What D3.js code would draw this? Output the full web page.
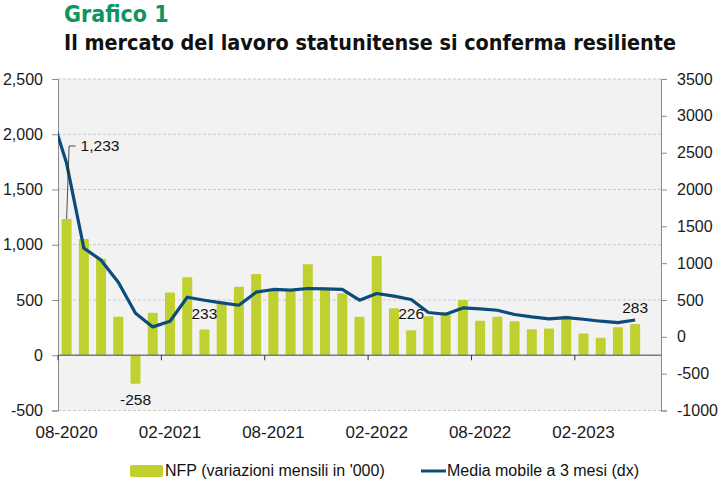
<!DOCTYPE html>
<html>
<head>
<meta charset="utf-8">
<script src="https://cdn.jsdelivr.net/npm/d3@7"></script>
<style>
  body { margin: 0; background: #fff; }
  text { font-family: "Liberation Sans", Arial, sans-serif; }
  .axis path, .axis line { stroke: #8c8c8c; }
  .axis text { fill: #1a1a1a; }
</style>
</head>
<body>
<div id="chart"></div>
<script>
// categories: one slot per month, last one empty
let months = [
    "08-2020","09-2020","10-2020","11-2020","12-2020","01-2021","02-2021","03-2021",
    "04-2021","05-2021","06-2021","07-2021","08-2021","09-2021","10-2021","11-2021",
    "12-2021","01-2022","02-2022","03-2022","04-2022","05-2022","06-2022","07-2022",
    "08-2022","09-2022","10-2022","11-2022","12-2022","01-2023","02-2023","03-2023",
    "04-2023","05-2023","06-2023"
];
// NFP, monthly change in '000 (left axis)
let nfp = [
    1233, 1052, 874, 349, -258, 385, 567, 706, 233, 472, 621, 736, 590, 585, 823, 606,
    561, 349, 899, 425, 226, 352, 392, 500, 313, 349, 308, 235, 241, 358, 196, 159,
    253, 283
];
// 3-month moving average (right axis); maBefore is 07-2020, cut off by the frame
let maBefore = 3100;
let ma = [
    2355, 1204, 1041, 742, 321, 135, 212, 538, 497, 461, 429, 606, 643, 633, 656, 651,
    643, 497, 588, 552, 507, 330, 307, 393, 379, 361, 303, 270, 243, 262, 239, 212,
    192, 228
];
let leftTicks = [-500, 0, 500, 1000, 1500, 2000, 2500];
let rightTicks = [-1000, -500, 0, 500, 1000, 1500, 2000, 2500, 3000, 3500];
let xLabels = ["08-2020","02-2021","08-2021","02-2022","08-2022","02-2023"];
let callouts = [
    { i: 0, text: "1,233" },
    { i: 8, text: "233" },
    { i: 4, text: "-258" },
    { i: 20, text: "226" },
    { i: 33, text: "283" }
];

// d3.format writes a typographic minus, the original uses a hyphen
function hyphen(fmt) {
    return d => fmt(d).replace("\u2212", "-");
}

class Chart {
    constructor(option) {
        for (let [key, value] of Object.entries(option)) {
            this[key] = value;
        }
        this.left = 58;
        this.right = 661;
        this.top = 79;
        this.bottom = 410.5;
        this.barColor = "#c0d12f";
        this.lineColor = "#0c4c7b";
        this.creatSvg();
        this.creatTitle();
        this.creatScales();
        this.creatAxes();
        this.creatBars();
        this.creatLine();
        this.creatCallouts();
        this.creatLegend();
    }
    creatSvg() {
        this.svg = d3.select(this.ele)
            .append("svg")
            .attr("width", this.width)
            .attr("height", this.height);
    }
    creatTitle() {
        this.svg.append("text")
            .attr("x", 64).attr("y", 22)
            .style("font-family", "'Liberation Sans Narrow', 'DejaVu Sans Condensed', sans-serif")
            .style("font-weight", "bold")
            .style("font-size", "23px")
            .style("fill", "#0f9461")
            .text("Grafico 1");
        this.svg.append("text")
            .attr("x", 64).attr("y", 50)
            .attr("textLength", 612)
            .attr("lengthAdjust", "spacingAndGlyphs")
            .style("font-family", "'Liberation Sans Narrow', 'DejaVu Sans Condensed', sans-serif")
            .style("font-weight", "bold")
            .style("font-size", "22px")
            .style("fill", "#111")
            .text("Il mercato del lavoro statunitense si conferma resiliente");
    }
    creatScales() {
        this.x = d3.scaleBand()
            .domain(months)
            .range([this.left, this.right])
            .paddingInner(0.42)
            .paddingOuter(0.21);
        this.yL = d3.scaleLinear().domain([-500, 2500]).range([this.bottom, this.top]);
        this.yR = d3.scaleLinear().domain([-1000, 3500]).range([this.bottom, this.top]);
    }
    xc(m) {
        return this.x(m) + this.x.bandwidth() / 2;
    }
    creatAxes() {
        let _this = this;
        // plot background
        this.svg.append("rect")
            .attr("x", this.left).attr("y", this.top)
            .attr("width", this.right - this.left)
            .attr("height", this.bottom - this.top)
            .style("fill", "#f2f2f2");

        // dashed grid on the left scale
        this.svg.append("g")
            .selectAll("line")
            .data(leftTicks.filter(d => d !== 0))
            .enter()
            .append("line")
            .attr("x1", this.left).attr("x2", this.right)
            .attr("y1", d => _this.yL(d)).attr("y2", d => _this.yL(d))
            .style("stroke", "#c9c9c9")
            .style("stroke-dasharray", "3,2")
            .style("stroke-width", 1);

        let yAxisL = d3.axisLeft(this.yL)
            .tickValues(leftTicks)
            .tickSize(6)
            .tickPadding(9)
            .tickFormat(hyphen(d3.format(",")));
        this.svg.append("g")
            .attr("class", "axis")
            .attr("transform", `translate(${this.left},0)`)
            .call(yAxisL)
            .call(g => g.selectAll("text").style("font-size", "16px"));

        let yAxisR = d3.axisRight(this.yR)
            .tickValues(rightTicks)
            .tickSize(6)
            .tickPadding(10)
            .tickFormat(hyphen(d3.format("d")));
        this.svg.append("g")
            .attr("class", "axis")
            .attr("transform", `translate(${this.right},0)`)
            .call(yAxisR)
            .call(g => g.selectAll("text").style("font-size", "16px"));

        let xAxis = d3.axisBottom(this.x)
            .tickValues(xLabels)
            .tickSize(0)
            .tickPadding(15);
        this.svg.append("g")
            .attr("class", "axis")
            .attr("transform", `translate(0,${this.bottom})`)
            .call(xAxis)
            .call(g => g.select(".domain").remove())
            .call(g => g.selectAll("text").style("font-size", "17px"));
    }
    creatBars() {
        let _this = this;
        let y0 = this.yL(0);
        this.svg.append("g")
            .selectAll("rect")
            .data(nfp)
            .enter()
            .append("rect")
            .attr("x", (d, i) => _this.x(months[i]))
            .attr("width", _this.x.bandwidth())
            .attr("y", d => Math.min(_this.yL(d), y0))
            .attr("height", d => Math.abs(_this.yL(d) - y0))
            .attr("rx", 1)
            .style("fill", this.barColor);

        // zero line with half-year ticks on category edges
        this.svg.append("line")
            .attr("x1", this.left).attr("x2", this.right)
            .attr("y1", y0).attr("y2", y0)
            .style("stroke", "#7a7a7a")
            .style("stroke-width", 1.3);
        let edge = this.x.step() * this.x.paddingInner() / 2;
        this.svg.append("g")
            .selectAll("line")
            .data(xLabels)
            .enter()
            .append("line")
            .attr("x1", d => _this.x(d) - edge).attr("x2", d => _this.x(d) - edge)
            .attr("y1", y0).attr("y2", y0 + 5)
            .style("stroke", "#333")
            .style("stroke-width", 1);
    }
    creatLine() {
        let _this = this;
        let pts = [[this.xc(months[0]) - this.x.step(), this.yR(maBefore)]];
        ma.forEach((v, i) => pts.push([_this.xc(months[i]), _this.yR(v)]));

        this.svg.append("clipPath").attr("id", "plotclip")
            .append("rect")
            .attr("x", this.left).attr("y", this.top)
            .attr("width", this.right - this.left)
            .attr("height", this.bottom - this.top);

        this.svg.append("path")
            .datum(pts)
            .attr("clip-path", "url(#plotclip)")
            .attr("d", d3.line())
            .style("fill", "none")
            .style("stroke", this.lineColor)
            .style("stroke-width", 3.2)
            .style("stroke-linejoin", "round");
    }
    creatCallouts() {
        let _this = this;
        let g = this.svg.append("g")
            .style("font-size", "15.5px")
            .style("fill", "#111");
        callouts.forEach(c => {
            let v = nfp[c.i];
            let cx = _this.xc(months[c.i]);
            if (c.i === 0) {
                // leader line up to the label
                let ly = 146;
                g.append("path")
                    .attr("d", `M${cx},${_this.yL(v)}L${cx + 2.5},${ly}L${cx + 9},${ly}`)
                    .style("fill", "none")
                    .style("stroke", "#222")
                    .style("stroke-width", 0.8);
                g.append("text")
                    .attr("x", cx + 14).attr("y", ly)
                    .attr("dy", "0.35em")
                    .text(c.text);
            } else {
                g.append("text")
                    .attr("x", cx)
                    .attr("y", v < 0 ? _this.yL(v) + 21 : _this.yL(v) - 11)
                    .attr("text-anchor", "middle")
                    .text(c.text);
            }
        });
    }
    creatLegend() {
        let g = this.svg.append("g")
            .style("font-family", "'Liberation Sans Narrow', 'DejaVu Sans Condensed', sans-serif")
            .style("font-size", "16px")
            .style("fill", "#111");
        g.append("rect")
            .attr("x", 130).attr("y", 465)
            .attr("width", 33).attr("height", 12)
            .attr("rx", 2)
            .style("fill", this.barColor);
        g.append("text")
            .attr("x", 165).attr("y", 476)
            .text("NFP (variazioni mensili in '000)");
        g.append("line")
            .attr("x1", 421).attr("x2", 446)
            .attr("y1", 471).attr("y2", 471)
            .style("stroke", this.lineColor)
            .style("stroke-width", 3);
        g.append("text")
            .attr("x", 447).attr("y", 476)
            .text("Media mobile a 3 mesi (dx)");
    }
}

let chart = new Chart({
    ele: document.getElementById("chart"),
    width: 725,
    height: 482
});
</script>
</body>
</html>
